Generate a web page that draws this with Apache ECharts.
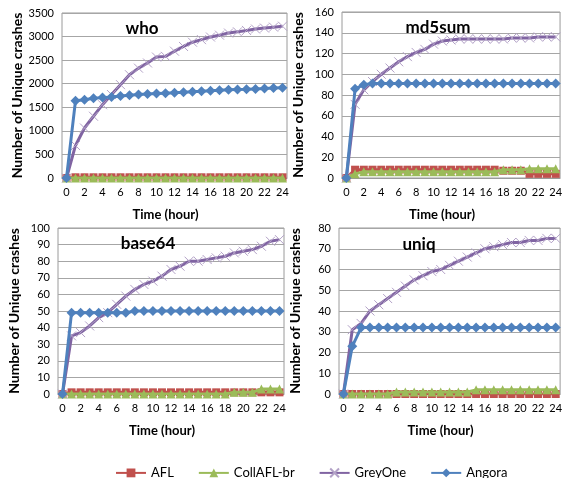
<!DOCTYPE html>
<html>
<head>
<meta charset="utf-8">
<script src="https://cdn.jsdelivr.net/npm/echarts@6/dist/echarts.min.js"></script>
<style>
  html, body { margin: 0; padding: 0; background: #fff; }
  #main { width: 565px; height: 478px; }
</style>
</head>
<body>
<div id="main"></div>
<script>
var hours = ['0','1','2','3','4','5','6','7','8','9','10','11','12','13','14','15','16','17','18','19','20','21','22','23','24'];
var seriesNames = ['AFL', 'CollAFL-br', 'GreyOne', 'Angora'];
var panelTitles = ['who', 'md5sum', 'base64', 'uniq'];
var yMax = [3500, 160, 100, 80];
var yStep = [500, 20, 10, 10];

// who
var whoAFL   = [0,15,15,15,15,15,15,15,15,15,15,15,15,15,15,15,15,15,15,15,15,15,15,15,15];
var whoColl  = [0,0,0,0,0,0,0,0,0,0,0,0,0,0,0,0,0,0,0,0,0,0,0,0,0];
var whoGrey  = [0,690,1060,1310,1555,1770,1980,2190,2330,2440,2565,2580,2690,2790,2880,2935,2990,3030,3075,3100,3130,3160,3180,3200,3220];
var whoAng   = [0,1640,1660,1690,1705,1720,1740,1755,1770,1780,1790,1800,1810,1820,1830,1840,1850,1860,1870,1875,1880,1890,1900,1910,1915];
// md5sum
var md5AFL   = [0,8,8,8,8,8,8,8,8,8,8,8,8,8,8,8,8,8,7,7,7,4,4,4,4];
var md5Coll  = [0,4,6,6,6,6,6,6,6,6,6,6,6,6,6,6,6,6,8,8,8,9,9,9,9];
var md5Grey  = [0,71,85,93,100,106,112,117,121,124,129,132,133,134,134,134,134,134,134,135,135,135,136,136,136];
var md5Ang   = [0,86,90,91,91,91,91,91,91,91,91,91,91,91,91,91,91,91,91,91,91,91,91,91,91];
// base64
var b64AFL   = [0,1,1,1,1,1,1,1,1,1,1,1,1,1,1,1,1,1,1,1,1,1,1,1,1];
var b64Coll  = [0,0,0,0,0,0,0,0,0,0,0,0,0,0,0,0,0,0,0,1,1,1,3,3,3];
var b64Grey  = [0,35,37,41,46,49,54,59,63,66,68,71,75,77,80,80,81,82,83,85,86,87,89,92,93];
var b64Ang   = [0,49,49,49,49,49,49,49,50,50,50,50,50,50,50,50,50,50,50,50,50,50,50,50,50];
// uniq
var uniqAFL  = [0,0,0,0,0,0,0,0,0,0,0,0,0,0,0,0,0,0,0,0,0,0,0,0,0];
var uniqColl = [0,0,0,0,0,0,1,1,1,1,1,1,1,1,1,2,2,2,2,2,2,2,2,2,2];
var uniqGrey = [0,31,34,40,43,46,49,52,55,57,59,60,62,64,66,68,70,71,72,73,73,74,74,75,75];
var uniqAng  = [0,23,32,32,32,32,32,32,32,32,32,32,32,32,32,32,32,32,32,32,32,32,32,32,32];

var panelData = [
    [whoAFL, whoColl, whoGrey, whoAng],
    [md5AFL, md5Coll, md5Grey, md5Ang],
    [b64AFL, b64Coll, b64Grey, b64Ang],
    [uniqAFL, uniqColl, uniqGrey, uniqAng]
];

var font = 'Lato';
var lineColors = ['#C0504D', '#9BBB59', '#8064A2', '#4F81BD'];
var markerStyles = [
    {symbol: 'rect', symbolSize: 8, itemStyle: {color: '#C0504D'}},
    {symbol: 'triangle', symbolSize: 9, itemStyle: {color: '#9BBB59'}},
    {symbol: 'path://M0,0L10,10M10,0L0,10', symbolSize: 9, itemStyle: {color: 'none', borderColor: '#B3A2C7', borderWidth: 1}},
    {symbol: 'diamond', symbolSize: 10, itemStyle: {color: '#4F81BD'}}
];

var grids = [
    {left: 62, top: 13, width: 225, height: 165},
    {left: 342, top: 12, width: 222, height: 166},
    {left: 58, top: 228, width: 226, height: 166},
    {left: 339, top: 228, width: 225, height: 166}
];
var titlePos = [[137, 15], [433, 14], [143, 230], [414, 231]];

var chart = echarts.init(document.getElementById('main'));

var option = {
    backgroundColor: '#fff',
    animation: false,
    textStyle: {fontFamily: font},
    title: [],
    grid: [],
    xAxis: [],
    yAxis: [],
    legend: {
        left: 110,
        top: 461,
        itemWidth: 30,
        itemHeight: 11,
        itemGap: 24,
        textStyle: {fontFamily: font, fontSize: 13, color: '#000'},
        data: seriesNames
    },
    series: []
};

for (var p = 0; p < 4; p++) {
    var g = grids[p];
    option.grid.push({
        left: g.left, top: g.top, width: g.width, height: g.height,
        show: true, borderColor: '#9a9a9a', borderWidth: 1, backgroundColor: '#fff'
    });
    option.title.push({
        text: panelTitles[p],
        left: titlePos[p][0],
        top: titlePos[p][1],
        textAlign: 'center',
        textStyle: {fontFamily: font, fontSize: 17, fontWeight: 'bold', color: '#000'}
    });
    option.xAxis.push({
        type: 'category',
        gridIndex: p,
        data: hours,
        boundaryGap: true,
        name: 'Time (hour)',
        nameLocation: 'middle',
        nameGap: 30,
        nameTextStyle: {fontFamily: font, fontSize: 13, fontWeight: 'bold', color: '#000', padding: [0, 18, 0, 0]},
        axisLine: {lineStyle: {color: '#9a9a9a'}},
        axisTick: {show: false},
        axisLabel: {interval: 1, fontSize: 11, color: '#000', margin: 9, fontFamily: font}
    });
    option.yAxis.push({
        type: 'value',
        gridIndex: p,
        min: 0,
        max: yMax[p],
        interval: yStep[p],
        name: 'Number of Unique crashes',
        nameLocation: 'middle',
        nameGap: 37,
        nameTextStyle: {fontFamily: font, fontSize: 14, fontWeight: 'bold', color: '#000'},
        axisLine: {show: false},
        axisTick: {show: false},
        axisLabel: {fontSize: 11, color: '#000', margin: 8, fontFamily: font,
            formatter: function (v) { return String(v); }},
        splitLine: {lineStyle: {color: '#a6a6a6'}}
    });
    for (var s = 0; s < 4; s++) {
        option.series.push({
            name: seriesNames[s],
            type: 'line',
            xAxisIndex: p,
            yAxisIndex: p,
            data: panelData[p][s],
            symbol: markerStyles[s].symbol,
            symbolSize: markerStyles[s].symbolSize,
            showAllSymbol: true,
            itemStyle: markerStyles[s].itemStyle,
            lineStyle: {color: lineColors[s], width: 3},
            z: 2 + s
        });
    }
}

chart.setOption(option);
</script>
</body>
</html>
